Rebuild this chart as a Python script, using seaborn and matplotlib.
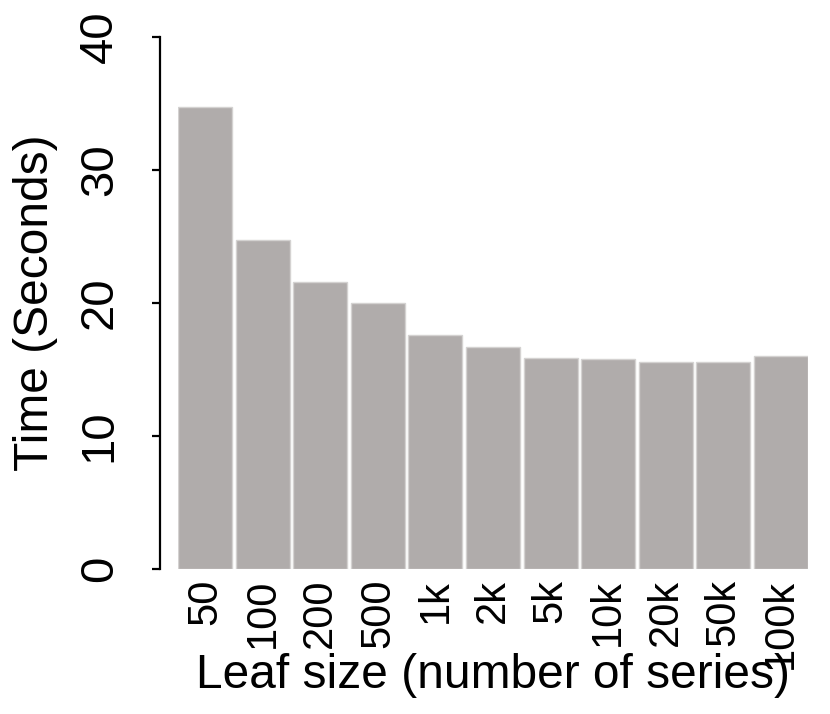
import numpy as np
import pandas as pd
import matplotlib
matplotlib.use("Agg")
import matplotlib.pyplot as plt
import seaborn as sns

leaf_sizes = ["50", "100", "200", "500", "1k", "2k", "5k", "10k", "20k", "50k", "100k"]
times = [34.7, 24.7, 21.6, 20.0, 17.6, 16.7, 15.9, 15.8, 15.6, 15.6, 16.0]

df = pd.DataFrame({"leaf": leaf_sizes, "time": times})

sns.set_style("white")
plt.rcParams["font.family"] = ["Liberation Sans", "DejaVu Sans"]
plt.rcParams["text.color"] = "black"
plt.rcParams["xtick.color"] = "black"
plt.rcParams["ytick.color"] = "black"
plt.rcParams["axes.labelcolor"] = "black"

fig = plt.figure(figsize=(8.3, 7.14), dpi=100)
ax = fig.add_axes([178 / 830, 145 / 714, 630 / 830, 532 / 714])

sns.barplot(data=df, x="leaf", y="time", color="#b0acab", saturation=1,
            width=0.94, edgecolor="#d4d2d1", linewidth=1, ax=ax)

ax.set_xlim(-0.47, 10.47)
ax.set_ylim(0, 40)
ax.set_yticks([0, 10, 20, 30, 40])

for s in ["top", "right", "bottom"]:
    ax.spines[s].set_visible(False)
# y axis sits a little left of the first bar
ax.spines["left"].set_position(("outward", 13))
ax.spines["left"].set_linewidth(1.6)
ax.spines["left"].set_color("black")

ax.tick_params(axis="y", length=5.5, width=1.6, color="black", pad=22,
               labelsize=34, labelrotation=90, left=True)
for t in ax.get_yticklabels():
    t.set_va("center")
ax.tick_params(axis="x", length=0, pad=7, labelsize=30, labelrotation=90)

ax.set_xlabel("Leaf size (number of series)", fontsize=34.5)
ax.set_ylabel("Time (Seconds)", fontsize=34.5)
ax.xaxis.set_label_coords(0.5, -0.158)
ax.yaxis.set_label_coords(-0.19, 0.5)

fig.savefig("out.png", dpi=100)
